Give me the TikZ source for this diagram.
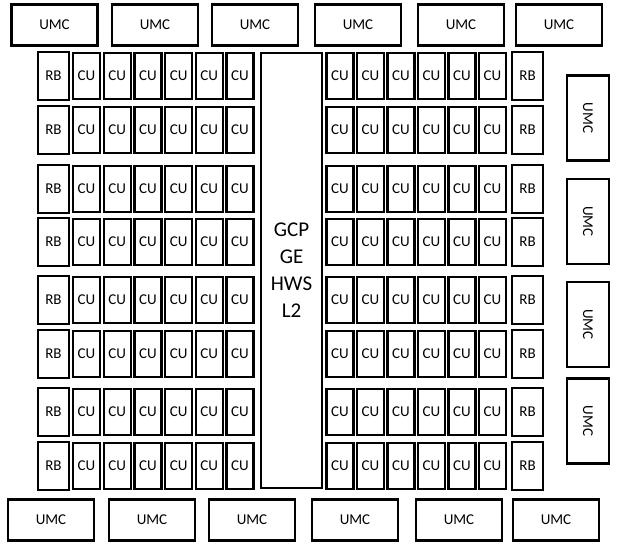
\documentclass[tikz,border=0pt]{standalone}
\usepackage{fontspec}
\setmainfont{Carlito}
\begin{document}
\begin{tikzpicture}[x=1pt,y=-1pt,
  blk/.style={draw,line width=2.2pt,inner sep=0pt,outer sep=0pt,font=\fontsize{15}{17}\selectfont},
  umc/.style={blk,minimum width=86pt,minimum height=41pt},
  umcv/.style={blk,rotate=-90,minimum width=85pt,minimum height=42pt},
  rb/.style={blk,minimum width=31pt,minimum height=48pt},
  cu/.style={blk,minimum width=27pt,minimum height=46pt}]
\useasboundingbox (0,0) rectangle (620,551);
\foreach \x [count=\i] in {54.5,155,255,358,461,559} % top UMCs
\node[umc] (umcT\i) at (\x,25) {UMC};
\foreach \x [count=\i] in {51,152,252,355,459,556} % bottom UMCs
\node[umc] (umcB\i) at (\x,520) {UMC};
\foreach \y [count=\i] in {118,221.5,324.5,421} % right UMCs
\node[umcv] (umcR\i) at (588,\y) {UMC};
% middle block
\node[blk,minimum width=61pt,minimum height=435pt,align=center,font=\fontsize{21}{27}\selectfont] (gcp) at (291.5,270.5) {GCP\\GE\\HWS\\L2};
\foreach \y [count=\r] in {76,130,189,242,300,354,412,466}{ % rows of RB + CUs
\node[rb] (rbL\r) at (53.5,\y) {RB};
\node[rb] (rbR\r) at (527.5,\y) {RB};
\foreach \c in {0,...,5}{
  \node[cu] (cuL\r-\c) at (86.5+30.7*\c,\y) {CU};
  \node[cu] (cuR\r-\c) at (340+30.5*\c,\y) {CU};
}}
\end{tikzpicture}
\end{document}
